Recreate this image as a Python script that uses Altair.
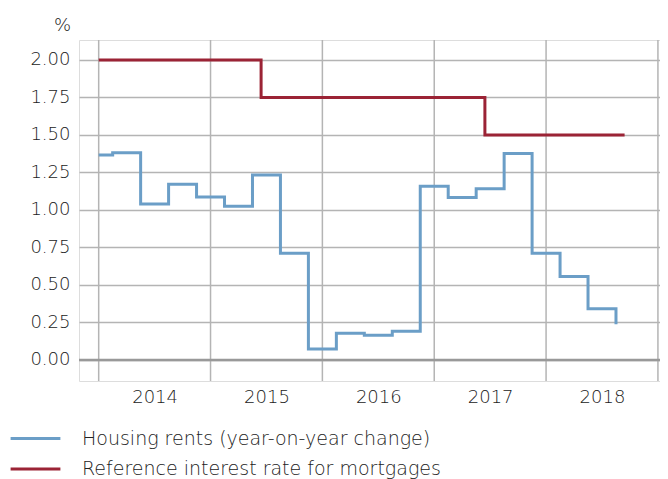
import altair as alt
import pandas as pd

# ---- data ----
series_names = ["Housing rents (year-on-year change)", "Reference interest rate for mortgages"]
series_colors = ["#6b9ec7", "#9b2335"]

rent_x = [2014.0, 2014.125, 2014.375, 2014.625, 2014.875,
          2015.125, 2015.375, 2015.625, 2015.875,
          2016.125, 2016.375, 2016.625, 2016.875,
          2017.125, 2017.375, 2017.625, 2017.875,
          2018.125, 2018.375, 2018.625]
rent_y = [1.367, 1.382, 1.040, 1.171, 1.087,
          1.025, 1.233, 0.711, 0.073,
          0.178, 0.165, 0.191, 1.158,
          1.084, 1.142, 1.376, 0.711,
          0.556, 0.342, 0.238]

rate_x = [2014.0, 2015.452, 2017.453, 2018.702]
rate_y = [2.00, 1.75, 1.50, 1.50]

year_lines = [2014, 2015, 2016, 2017, 2018, 2019]
year_label_pos = [2014.5, 2015.5, 2016.5, 2017.5, 2018.5]
y_ticks = [0.0, 0.25, 0.5, 0.75, 1.0, 1.25, 1.5, 1.75, 2.0]

# ---- tables ----
df = pd.concat([
    pd.DataFrame({"x": rent_x, "y": rent_y, "series": series_names[0], "i": range(len(rent_x))}),
    pd.DataFrame({"x": rate_x, "y": rate_y, "series": series_names[1], "i": range(len(rate_x))}),
])
years_df = pd.DataFrame({"x": year_lines})
zero_df = pd.DataFrame({"y": [0.0]})

FONT = "DejaVu Sans"
TXT = "#222222"
GRID = "#b4b4b4"
FW = 300

x_scale = alt.Scale(domain=[2013.824, 2019.0185], nice=False, zero=False)
y_scale = alt.Scale(domain=[-0.14, 2.1333], nice=False, zero=False)

vlines = alt.Chart(years_df).mark_rule(color=GRID, strokeWidth=1.5).encode(
    x=alt.X("x:Q", scale=x_scale)
)

zero = alt.Chart(zero_df).mark_rule(color="#999999", strokeWidth=2.5).encode(
    y=alt.Y("y:Q", scale=y_scale)
)

lines = alt.Chart(df).mark_line(interpolate="step-after", strokeWidth=3).encode(
    x=alt.X("x:Q", scale=x_scale,
            axis=alt.Axis(values=year_label_pos, labelExpr="floor(datum.value)",
                          ticks=False, domain=False, grid=False, title=None,
                          labelFontSize=18, labelColor=TXT, labelFont=FONT,
                          labelFontWeight=FW,
                          labelPadding=7, labelFlush=False, labelOverlap=False)),
    y=alt.Y("y:Q", scale=y_scale,
            axis=alt.Axis(values=y_ticks, format=".2f", ticks=False, domain=False,
                          grid=True, gridColor=GRID, gridWidth=1.5,
                          labelFontSize=18, labelColor=TXT, labelFont=FONT,
                          labelFontWeight=FW, labelPadding=9,
                          title="%", titleAngle=0, titleX=-17, titleY=-15,
                          titleAlign="center", titleBaseline="middle",
                          titleFontWeight=FW, titleFontSize=18,
                          titleColor=TXT, titleFont=FONT)),
    color=alt.Color("series:N",
                    scale=alt.Scale(domain=series_names, range=series_colors),
                    legend=alt.Legend(orient="none", legendX=-53, legendY=389,
                                      direction="vertical", title=None,
                                      symbolType="M-4.15,0H4.15", symbolSize=144,
                                      symbolStrokeWidth=3, labelFontSize=19,
                                      labelColor=TXT, labelFont=FONT,
                                      labelFontWeight=FW, labelLimit=0,
                                      labelOffset=37, rowPadding=10.5, padding=0)),
    order="i:Q",
)

chart = alt.layer(vlines, zero, lines).properties(
    width=581, height=341,
    padding={"left": 71, "top": 32, "right": 0, "bottom": 110},
    autosize=alt.AutoSizeParams(type="none"),
).configure_view(stroke=None).configure(font=FONT)

chart.save("out.html", embed_options={"renderer": "svg", "actions": False})
